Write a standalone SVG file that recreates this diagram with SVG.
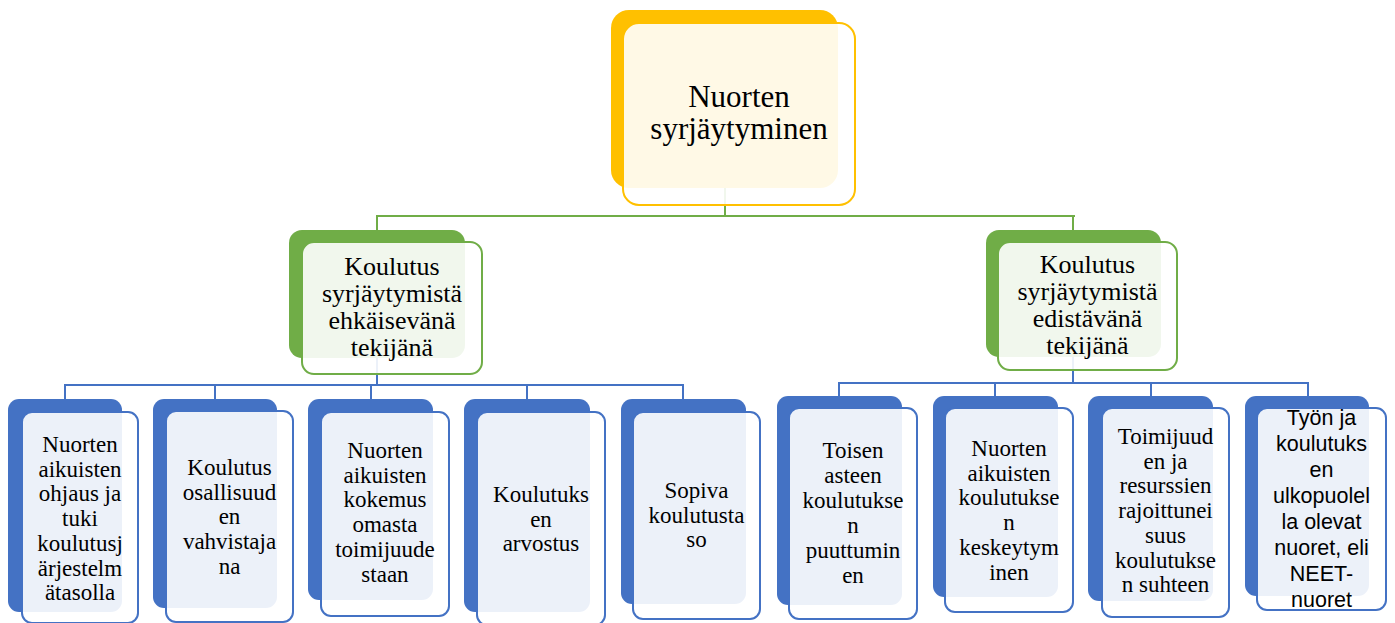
<svg xmlns="http://www.w3.org/2000/svg" width="1395" height="623" viewBox="0 0 1395 623">
<style>
.bg{fill:#FFFFFF}
.yb{fill:#FFC000}
.yf{fill:#FFFFFF;fill-opacity:0.9;stroke:#FFC000;stroke-width:2}
.gb{fill:#70AD47}
.gf{fill:#FFFFFF;fill-opacity:0.9;stroke:#70AD47;stroke-width:2}
.bb{fill:#4472C4}
.bf{fill:#FFFFFF;fill-opacity:0.9;stroke:#4472C4;stroke-width:2}
.gl{fill:none;stroke:#70AD47;stroke-width:2}
.bl{fill:none;stroke:#4472C4;stroke-width:2}
text{font-family:"Liberation Serif","Times New Roman",serif;fill:#000;text-anchor:middle}
.t0{font-size:31px}
.t1{font-size:26px}
.t2{font-size:23px}
.t3{font-family:"Liberation Sans",Arial,sans-serif;font-size:21.5px}
</style>
<rect class="bg" x="0" y="0" width="1395" height="623"/>
<g id="connectors">
<path class="gl" d="M725,188V216M376,216H1075M377,216V230M1073,216V230"/>
<path class="bl" d="M377,358V385M64,385H684M65,385V399M215,385V399M371,385V399M527,385V399M683,385V399"/>
<path class="bl" d="M1073,357V383M838,383H1309M839,383V396M995,383V396M1151,383V396M1308,383V396"/>
</g>
<g id="n0">
<rect class="yb" x="611" y="10" width="227" height="178" rx="18"/>
<rect class="yf" x="623" y="23" width="232" height="182" rx="16"/>
<text class="t0" x="739"><tspan x="739" y="107">Nuorten</tspan><tspan x="739" y="139">syrjäytyminen</tspan></text>
</g>
<g id="n1">
<rect class="gb" x="289" y="230" width="176" height="128" rx="13"/>
<rect class="gf" x="302" y="242" width="180" height="132" rx="12"/>
<text class="t1"><tspan x="392" y="275">Koulutus</tspan><tspan x="392" y="302">syrjäytymistä</tspan><tspan x="392" y="329">ehkäisevänä</tspan><tspan x="392" y="356">tekijänä</tspan></text>
</g>
<g id="n2">
<rect class="gb" x="986" y="230" width="175" height="127" rx="13"/>
<rect class="gf" x="998" y="242" width="179" height="128" rx="12"/>
<text class="t1"><tspan x="1087.5" y="273">Koulutus</tspan><tspan x="1087.5" y="300">syrjäytymistä</tspan><tspan x="1087.5" y="327">edistävänä</tspan><tspan x="1087.5" y="354">tekijänä</tspan></text>
</g>
<g id="c1">
<rect class="bb" x="8" y="399" width="114" height="213" rx="11"/>
<rect class="bf" x="22" y="412" width="116" height="211" rx="10"/>
<text class="t2"><tspan x="80" y="452">Nuorten</tspan><tspan x="80" y="476.7">aikuisten</tspan><tspan x="80" y="501.4">ohjaus ja</tspan><tspan x="80" y="526.1">tuki</tspan><tspan x="80" y="550.8">koulutusj</tspan><tspan x="80" y="575.5">ärjestelm</tspan><tspan x="80" y="600.2">ätasolla</tspan></text>
</g>
<g id="c2">
<rect class="bb" x="153" y="399" width="124" height="209" rx="11"/>
<rect class="bf" x="166" y="411" width="127" height="211" rx="10"/>
<text class="t2"><tspan x="229.5" y="475">Koulutus</tspan><tspan x="229.5" y="499.7">osallisuud</tspan><tspan x="229.5" y="524.4">en</tspan><tspan x="229.5" y="549.1">vahvistaja</tspan><tspan x="229.5" y="573.8">na</tspan></text>
</g>
<g id="c3">
<rect class="bb" x="308" y="399" width="125" height="201" rx="11"/>
<rect class="bf" x="321" y="412" width="128" height="204" rx="10"/>
<text class="t2"><tspan x="385" y="458">Nuorten</tspan><tspan x="385" y="482.7">aikuisten</tspan><tspan x="385" y="507.4">kokemus</tspan><tspan x="385" y="532.1">omasta</tspan><tspan x="385" y="556.8">toimijuude</tspan><tspan x="385" y="581.5">staan</tspan></text>
</g>
<g id="c4">
<rect class="bb" x="464" y="399" width="126" height="213" rx="11"/>
<rect class="bf" x="477" y="412" width="128" height="213" rx="10"/>
<text class="t2"><tspan x="541" y="502">Koulutuks</tspan><tspan x="541" y="526.7">en</tspan><tspan x="541" y="551.4">arvostus</tspan></text>
</g>
<g id="c5">
<rect class="bb" x="621" y="399" width="125" height="205" rx="11"/>
<rect class="bf" x="633" y="412" width="127" height="207" rx="10"/>
<text class="t2"><tspan x="696.5" y="498">Sopiva</tspan><tspan x="696.5" y="522.7">koulutusta</tspan><tspan x="696.5" y="547.4">so</tspan></text>
</g>
<g id="c6">
<rect class="bb" x="777" y="396" width="125" height="209" rx="11"/>
<rect class="bf" x="789" y="408" width="128" height="211" rx="10"/>
<text class="t2"><tspan x="853" y="458">Toisen</tspan><tspan x="853" y="483">asteen</tspan><tspan x="853" y="508">koulutukse</tspan><tspan x="853" y="533">n</tspan><tspan x="853" y="558">puuttumin</tspan><tspan x="853" y="583">en</tspan></text>
</g>
<g id="c7">
<rect class="bb" x="933" y="396" width="125" height="201" rx="11"/>
<rect class="bf" x="945" y="408" width="128" height="204" rx="10"/>
<text class="t2"><tspan x="1009" y="456">Nuorten</tspan><tspan x="1009" y="480.7">aikuisten</tspan><tspan x="1009" y="505.4">koulutukse</tspan><tspan x="1009" y="530.1">n</tspan><tspan x="1009" y="554.8">keskeytym</tspan><tspan x="1009" y="579.5">inen</tspan></text>
</g>
<g id="c8">
<rect class="bb" x="1088" y="396" width="125" height="205" rx="11"/>
<rect class="bf" x="1102" y="408" width="127" height="209" rx="10"/>
<text class="t2"><tspan x="1165.5" y="444">Toimijuud</tspan><tspan x="1165.5" y="468.7">en ja</tspan><tspan x="1165.5" y="493.4">resurssien</tspan><tspan x="1165.5" y="518.1">rajoittunei</tspan><tspan x="1165.5" y="542.8">suus</tspan><tspan x="1165.5" y="567.5">koulutukse</tspan><tspan x="1165.5" y="592.2">n suhteen</tspan></text>
</g>
<g id="c9">
<rect class="bb" x="1245" y="396" width="124" height="200" rx="11"/>
<rect class="bf" x="1257" y="408" width="129" height="202" rx="10"/>
<text class="t3"><tspan x="1321.5" y="425">Työn ja</tspan><tspan x="1321.5" y="451">koulutuks</tspan><tspan x="1321.5" y="477">en</tspan><tspan x="1321.5" y="503">ulkopuolel</tspan><tspan x="1321.5" y="529">la olevat</tspan><tspan x="1321.5" y="555">nuoret, eli</tspan><tspan x="1321.5" y="581">NEET-</tspan><tspan x="1321.5" y="607">nuoret</tspan></text>
</g>
</svg>
